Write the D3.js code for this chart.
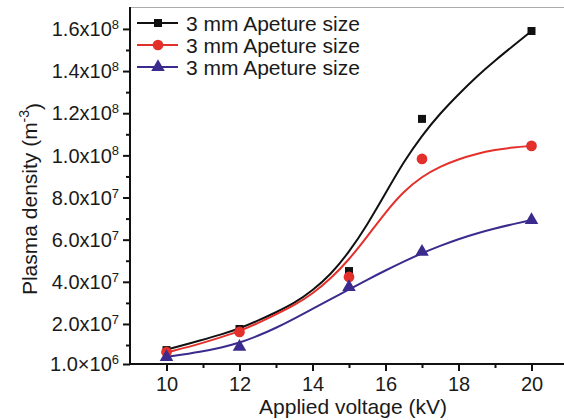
<!DOCTYPE html>
<html lang="en">
<head>
<meta charset="UTF-8">
<title>Plasma density</title>
<script src="https://d3js.org/d3.v7.min.js"></script>
<style>
  body { margin: 0; background: #fff; }
  svg text { font-family: Arial, "Liberation Sans", sans-serif; fill: #1a1a1a; }
</style>
</head>
<body>
<div id="chart"></div>
<script>
// measured points
var voltage = [10, 12, 15, 17, 20];
var black = [7.6e6, 1.76e7, 4.51e7, 1.173e8, 1.59e8];
var red   = [6.7e6, 1.62e7, 4.23e7, 9.83e7, 1.045e8];
var blue  = [4.3e6, 9.1e6, 3.75e7, 5.42e7, 6.93e7];

// fitted curves (units of 1e6)
var fitV     = [10, 11, 11.5, 12, 12.5, 13, 13.5, 14, 14.5, 15, 15.5, 16, 16.5, 17, 17.5, 18, 18.5, 19, 19.5, 20];
var fitBlack = [7.8, 12.5, 15, 17.8, 21.5, 25.5, 29.8, 35.8, 43.5, 54, 67, 82, 97, 109.5, 120, 129, 137.5, 145, 152, 159];
var fitRed   = [6.4, 11, 13.7, 16.6, 20.3, 24.5, 28.8, 34.3, 41.5, 50.5, 61.5, 73, 83, 90, 94.8, 98.2, 100.8, 102.6, 103.8, 104.5];
var fitBlue  = [4.3, 7.0, 8.8, 11.0, 14.3, 18.1, 22.5, 27.2, 31.8, 36.4, 41, 45.4, 49.6, 53.6, 57.1, 60.3, 63, 65.3, 67.4, 69.3];

var seriesNames = ["3 mm Apeture size", "3 mm Apeture size", "3 mm Apeture size"];
var xTicks = [10, 12, 14, 16, 18, 20];
var yTicks = [2e7, 4e7, 6e7, 8e7, 1e8, 1.2e8, 1.4e8, 1.6e8];

var w = 564, h = 420;
var padL = 130, padT = 7, axisY = 364;

var svg = d3.select("#chart").append("svg").attr("width", w).attr("height", h);

var x = d3.scaleLinear().domain([9, 21]).range([padL, padL + 12 * 36.5]);
var y = d3.scaleLinear().domain([1e6, 1.704e8]).range([axisY, padT]);

// top frame line
svg.append("line").attr("x1", padL).attr("x2", w).attr("y1", padT + 0.5).attr("y2", padT + 0.5)
  .style("stroke", "#aaa").style("stroke-width", 1);

// x axis
var xAxis = svg.append("g").attr("transform", "translate(0," + axisY + ")");
xAxis.call(d3.axisBottom(x).tickValues(xTicks).tickSize(7).tickSizeOuter(0).tickPadding(4)
  .tickFormat(d3.format("d")));
xAxis.append("g").call(d3.axisBottom(x).tickValues([11, 13, 15, 17, 19]).tickSize(4).tickFormat(""))
  .select(".domain").remove();
xAxis.select(".domain").attr("d", "M" + padL + ",0H" + w);
xAxis.selectAll("text").style("font-size", "20px").attr("dy", "0.8em");
xAxis.selectAll("line, path").style("stroke", "#111").style("stroke-width", 2);

// y axis
var yAxis = svg.append("g").attr("transform", "translate(" + padL + ",0)");
yAxis.call(d3.axisLeft(y).tickValues([1e6].concat(yTicks)).tickSize(7).tickSizeOuter(0).tickFormat(""));
yAxis.append("g").call(d3.axisLeft(y).tickValues([1e7, 3e7, 5e7, 7e7, 9e7, 1.1e8, 1.3e8, 1.5e8]).tickSize(4).tickFormat(""))
  .select(".domain").remove();
yAxis.select(".domain").attr("d", "M0," + padT + "V" + axisY);
yAxis.selectAll("line, path").style("stroke", "#111").style("stroke-width", 2);

// y tick labels with superscript exponents
var yLabels = [{v: 1e6, m: "1.0", e: "6", cross: "\u00d7"}].concat(yTicks.map(function(v) {
  var e = Math.floor(Math.log10(v));
  return {v: v, m: (v / Math.pow(10, e)).toFixed(1), e: String(e), cross: "x"};
}));
yLabels.forEach(function(d) {
  var t = svg.append("text").attr("x", 119).attr("y", y(d.v)).attr("dy", "0.36em")
    .attr("text-anchor", "end").style("font-size", "20px");
  t.append("tspan").text(d.m + d.cross + "10");
  t.append("tspan").attr("dy", "-0.55em").style("font-size", "13px").text(d.e);
});

// axis titles
svg.append("text").attr("x", 353).attr("y", 414).attr("text-anchor", "middle")
  .style("font-size", "21px").text("Applied voltage (kV)");
var yt = svg.append("text").attr("transform", "translate(37,199) rotate(-90)")
  .attr("text-anchor", "middle").style("font-size", "21px");
yt.append("tspan").text("Plasma density (m");
yt.append("tspan").attr("dy", "-0.55em").style("font-size", "14px").text("-3");
yt.append("tspan").attr("dy", "0.55em").text(")");

// series
var colors = ["#111111", "#e3302b", "#3a2b8c"];
var pts = [black, red, blue];
var fits = [fitBlack, fitRed, fitBlue];
var symbols = [d3.symbolSquare, d3.symbolCircle, d3.symbolTriangle];
var symSize = [64, 90, 80];

var line = d3.line().x(function(d) { return x(d[0]); }).y(function(d) { return y(d[1]); })
  .curve(d3.curveBasis);

fits.forEach(function(f, i) {
  svg.append("path").datum(fitV.map(function(v, j) { return [v, f[j] * 1e6]; }))
    .attr("d", line).style("fill", "none").style("stroke", colors[i]).style("stroke-width", 2);
});

pts.forEach(function(p, i) {
  svg.selectAll(".m" + i).data(voltage.map(function(v, j) { return [v, p[j]]; }))
    .enter().append("path").attr("class", "m" + i)
    .attr("transform", function(d) { return "translate(" + x(d[0]) + "," + y(d[1]) + ")"; })
    .attr("d", d3.symbol().type(symbols[i]).size(symSize[i]))
    .style("fill", colors[i]);
});

// legend
seriesNames.forEach(function(name, i) {
  var ly = 23 + i * 22;
  svg.append("line").attr("x1", 137).attr("x2", 178).attr("y1", ly).attr("y2", ly)
    .style("stroke", colors[i]).style("stroke-width", 2);
  svg.append("path").attr("transform", "translate(158," + ly + ")")
    .attr("d", d3.symbol().type(symbols[i]).size(symSize[i])).style("fill", colors[i]);
  svg.append("text").attr("x", 186).attr("y", ly).attr("dy", "0.36em")
    .style("font-size", "21px").text(name);
});
</script>
</body>
</html>
